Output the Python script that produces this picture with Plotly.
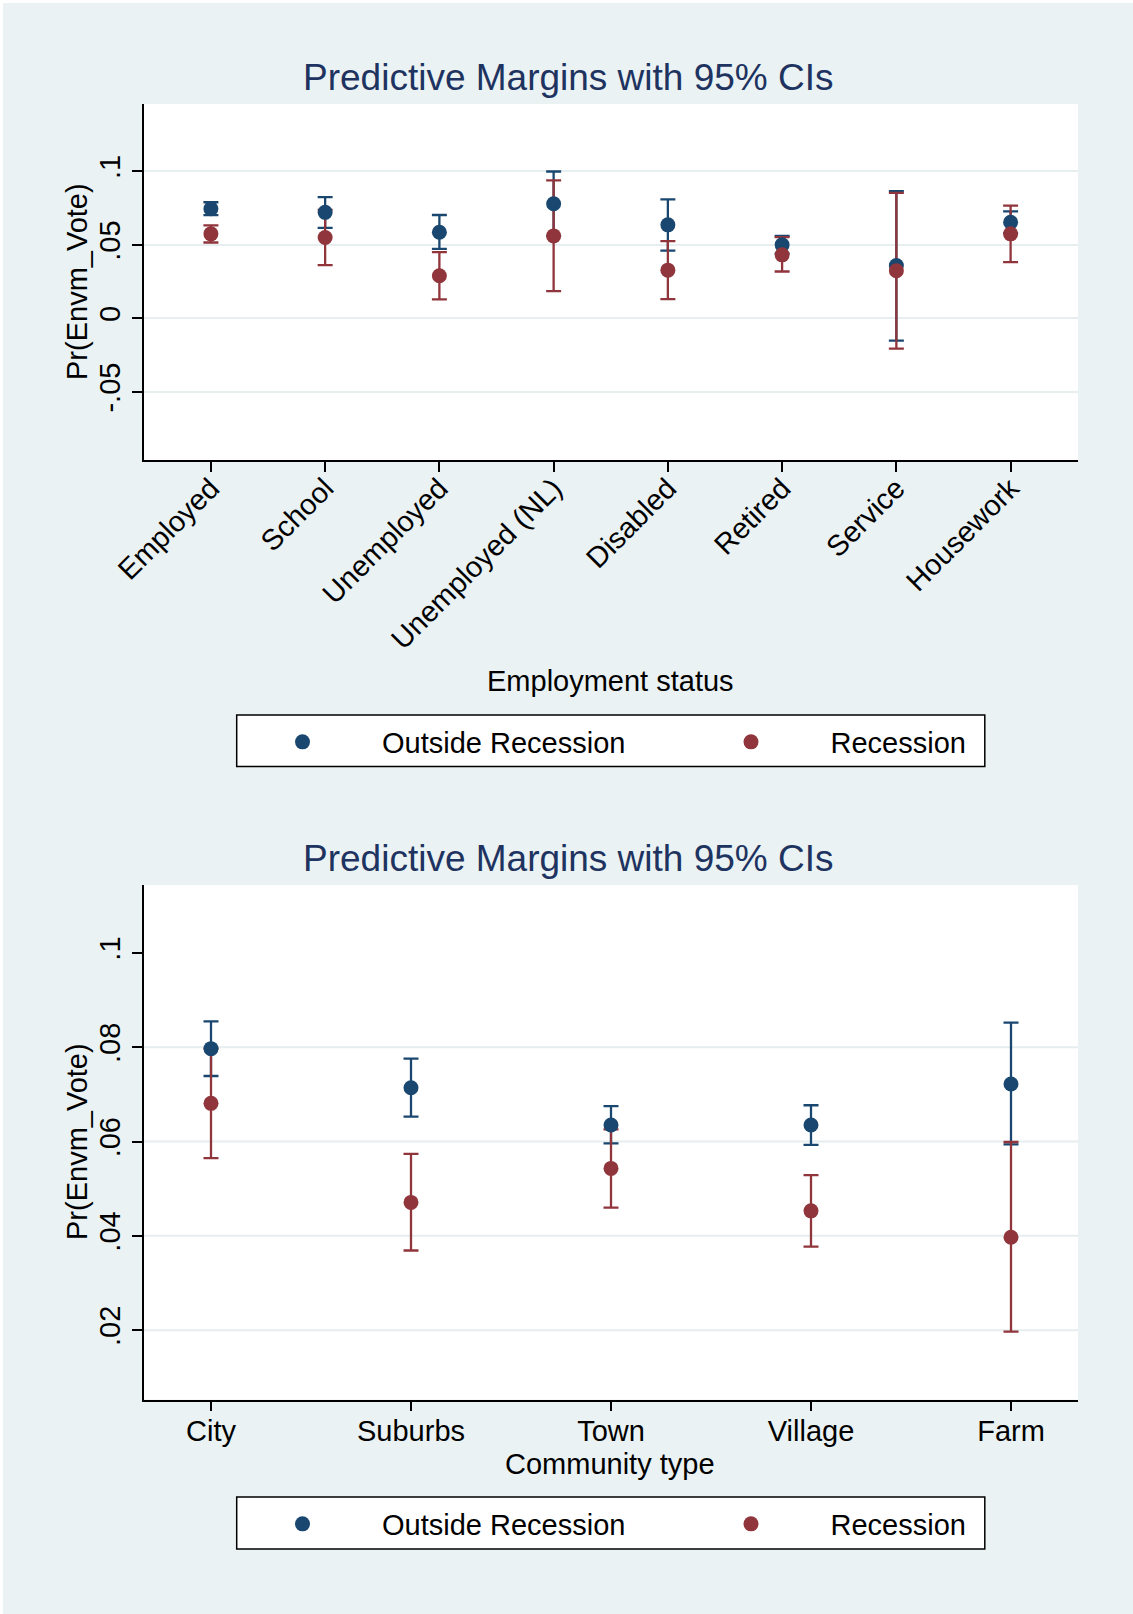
import plotly.graph_objects as go

W, H = 1133, 1614

# ---------------- data: top panel (employment status) ----------------
emp_categories = ["Employed", "School", "Unemployed", "Unemployed (NL)",
                  "Disabled", "Retired", "Service", "Housework"]
emp_out_margin = [0.0746, 0.0721, 0.0586, 0.0780, 0.0636, 0.0500, 0.0360, 0.0654]
emp_out_lo     = [0.0702, 0.0615, 0.0473, 0.0561, 0.0461, 0.0440, -0.0151, 0.0580]
emp_out_hi     = [0.0790, 0.0825, 0.0703, 0.0999, 0.0809, 0.0561, 0.0866, 0.0728]
emp_rec_margin = [0.0575, 0.0550, 0.0290, 0.0561, 0.0328, 0.0432, 0.0324, 0.0575]
emp_rec_lo     = [0.0516, 0.0362, 0.0129, 0.0185, 0.0131, 0.0319, -0.0206, 0.0382]
emp_rec_hi     = [0.0633, 0.0738, 0.0450, 0.0938, 0.0525, 0.0552, 0.0853, 0.0767]
emp_ytick_vals = [-0.05, 0, 0.05, 0.1]
emp_ytick_text = ["-.05", "0", ".05", ".1"]

# ---------------- data: bottom panel (community type) ----------------
com_categories = ["City", "Suburbs", "Town", "Village", "Farm"]
com_out_margin = [0.0797, 0.0714, 0.0635, 0.0635, 0.0722]
com_out_lo     = [0.0739, 0.0653, 0.0596, 0.0593, 0.0594]
com_out_hi     = [0.0855, 0.0776, 0.0675, 0.0677, 0.0852]
com_rec_margin = [0.0681, 0.0471, 0.0543, 0.0453, 0.0397]
com_rec_lo     = [0.0565, 0.0369, 0.0460, 0.0377, 0.0197]
com_rec_hi     = [0.0797, 0.0574, 0.0626, 0.0529, 0.0599]
com_ytick_vals = [0.02, 0.04, 0.06, 0.08, 0.1]
com_ytick_text = [".02", ".04", ".06", ".08", ".1"]
com_grid_vals  = [0.02, 0.04, 0.06, 0.08]

series_names = ["Outside Recession", "Recession"]
BLUE = "#1a476f"
RED = "#90353b"
TITLE = "#1e3360"
BG = "#eaf2f3"
GRID = "#e6eef0"
FONT = "Liberation Sans, Arial, Helvetica, sans-serif"


def px_x(p):
    return p / W


def px_y(p):
    return 1 - p / H


fig = go.Figure()


def add_panel(cats, out_m, out_lo, out_hi, rec_m, rec_lo, rec_hi, xa, ya, leg_a, leg_b):
    groups = [(out_m, out_lo, out_hi, BLUE, series_names[0], leg_a),
              (rec_m, rec_lo, rec_hi, RED, series_names[1], leg_b)]
    # confidence intervals first
    for m, lo, hi, col, name, leg in groups:
        fig.add_trace(go.Scatter(
            x=cats, y=m, mode="markers", xaxis=xa, yaxis=ya,
            marker=dict(size=15, color=col, opacity=0),
            error_y=dict(type="data", symmetric=False,
                         array=[h - v for h, v in zip(hi, m)],
                         arrayminus=[v - l for v, l in zip(m, lo)],
                         color=col, thickness=2.3, width=7.5),
            showlegend=False, hoverinfo="skip"))
    # then the point estimates
    for m, lo, hi, col, name, leg in groups:
        fig.add_trace(go.Scatter(
            x=cats, y=m, mode="markers", xaxis=xa, yaxis=ya,
            marker=dict(size=15, color=col),
            name=name, legend=leg, showlegend=True))


add_panel(emp_categories, emp_out_margin, emp_out_lo, emp_out_hi,
          emp_rec_margin, emp_rec_lo, emp_rec_hi, "x", "y", "legend", "legend2")
add_panel(com_categories, com_out_margin, com_out_lo, com_out_hi,
          com_rec_margin, com_rec_lo, com_rec_hi, "x2", "y2", "legend3", "legend4")

axis_common = dict(
    showline=True, linecolor="black", linewidth=1.5,
    ticks="outside", ticklen=10, tickwidth=1.5, tickcolor="black",
    zeroline=False, automargin=False,
    tickfont=dict(family=FONT, size=29, color="black"),
)

x_dom = [px_x(143.5), px_x(1078)]

fig.update_layout(
    template="none",
    width=W, height=H,
    margin=dict(l=0, r=0, t=0, b=0, pad=0, autoexpand=False),
    paper_bgcolor=BG, plot_bgcolor="white",
    font=dict(family=FONT, size=29, color="black"),
    xaxis=dict(domain=x_dom, anchor="y", type="category",
               range=[-0.59, 7.59], tickangle=-45, ticklabelstandoff=-12,
               showgrid=False, **axis_common),
    yaxis=dict(domain=[px_y(460), px_y(104)], anchor="x",
               range=[-0.0963, 0.1458], tickvals=emp_ytick_vals, ticktext=emp_ytick_text,
               tickangle=-90, showgrid=True, gridcolor=GRID, gridwidth=2, **axis_common),
    xaxis2=dict(domain=x_dom, anchor="y2", type="category",
                range=[-0.3375, 4.335], tickangle=0, ticklabelstandoff=-5,
                showgrid=False, **axis_common),
    yaxis2=dict(domain=[px_y(1399.5), px_y(885)], anchor="x2",
                range=[0.0053, 0.1144], tickvals=com_ytick_vals, ticktext=com_ytick_text,
                tickangle=-90, showgrid=False, **axis_common),
)

# legends (one per entry, to place them as in the original)
LEG_ITEMW = 149
leg_common = dict(orientation="v", itemwidth=LEG_ITEMW, borderwidth=0,
                  bgcolor="rgba(0,0,0,0)", font=dict(family=FONT, size=29, color="black"),
                  xanchor="left", yanchor="middle", itemclick=False, itemdoubleclick=False)
fig.update_layout(
    legend=dict(x=px_x(302.5 - 79.5), y=px_y(742), **leg_common),
    legend2=dict(x=px_x(751 - 79.5), y=px_y(742), **leg_common),
    legend3=dict(x=px_x(302.5 - 79.5), y=px_y(1524), **leg_common),
    legend4=dict(x=px_x(751 - 79.5), y=px_y(1524), **leg_common),
)

shapes = []
# bottom panel gridlines
for v in com_grid_vals:
    shapes.append(dict(type="line", xref="x2 domain", yref="y2", x0=0, x1=1, y0=v, y1=v,
                       line=dict(color=GRID, width=2), layer="below"))
# legend boxes
for top, bot in [(715, 766.6), (1497, 1549)]:
    shapes.append(dict(type="rect", xref="paper", yref="paper",
                       x0=px_x(236.7), x1=px_x(984.8), y0=px_y(bot), y1=px_y(top),
                       line=dict(color="black", width=1.5), fillcolor="white", layer="below"))
# thin white outer frame on left/top edges
shapes.append(dict(type="rect", xref="paper", yref="paper", x0=0, x1=px_x(3), y0=0, y1=1,
                   line=dict(width=0), fillcolor="white", layer="below"))
shapes.append(dict(type="rect", xref="paper", yref="paper", x0=0, x1=1, y0=px_y(3), y1=1,
                   line=dict(width=0), fillcolor="white", layer="below"))
fig.update_layout(shapes=shapes)

annotations = []
for yc in [77, 859]:
    annotations.append(dict(text="Predictive Margins with 95% CIs", xref="paper", yref="paper",
                            x=px_x(568), y=px_y(yc), xanchor="center", yanchor="middle",
                            showarrow=False, font=dict(family=FONT, size=37, color=TITLE)))
for yc in [282, 1142]:
    annotations.append(dict(text="Pr(Envm_Vote)", xref="paper", yref="paper",
                            x=px_x(77), y=px_y(yc), xanchor="center", yanchor="middle",
                            textangle=-90, showarrow=False,
                            font=dict(family=FONT, size=29, color="black")))
annotations.append(dict(text="Employment status", xref="paper", yref="paper",
                        x=px_x(610), y=px_y(681), xanchor="center", yanchor="middle",
                        showarrow=False, font=dict(family=FONT, size=29, color="black")))
annotations.append(dict(text="Community type", xref="paper", yref="paper",
                        x=px_x(610), y=px_y(1464), xanchor="center", yanchor="middle",
                        showarrow=False, font=dict(family=FONT, size=29, color="black")))
fig.update_layout(annotations=annotations)

fig.write_html("out.html", config={"displayModeBar": False},
               post_script="document.body.style.margin='0px';document.body.style.padding='0px';")
